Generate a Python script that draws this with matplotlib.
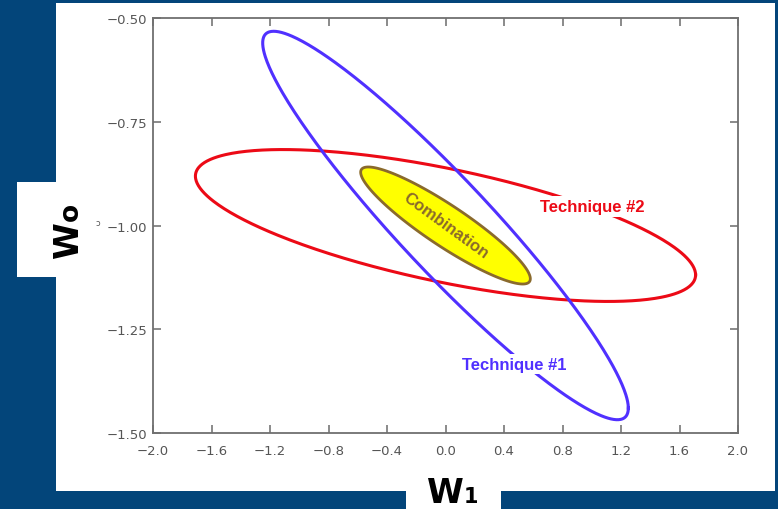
import numpy as np
import matplotlib.pyplot as plt
from matplotlib.patches import Rectangle

# error ellipses: centre, half-extent along each axis, and W1/W0 correlation
names = ['Technique #1', 'Technique #2', 'Combination']
center_w1 = [0.0, 0.0, 0.0]
center_w0 = [-1.0, -1.0, -1.0]
half_w1 = [1.25, 1.71, 0.58]
half_w0 = [0.468, 0.183, 0.141]
corr = [-0.94, -0.65, -0.91]

xticks = [-2.0, -1.6, -1.2, -0.8, -0.4, 0.0, 0.4, 0.8, 1.2, 1.6, 2.0]
yticks = [-1.50, -1.25, -1.00, -0.75, -0.50]

# label positions (W1, W0)
label_pos = [(0.47, -1.334), (1.0, -0.955), (0.0, -1.0)]

blue = '#5030ff'
red = '#ec0a16'
yellow = '#ffff00'
brown = '#8a6a2c'
navy = '#03457a'
grey = '#555555'

W, H = 778, 510


def ellipse(i):
    t = np.linspace(0, 2 * np.pi, 500)
    phi = np.arccos(corr[i])
    x = center_w1[i] + half_w1[i] * np.cos(t)
    y = center_w0[i] + half_w0[i] * np.cos(t + phi)
    return x, y


def box(x0, y0, x1, y1):
    # pixel box -> figure fraction rectangle
    return Rectangle((x0 / W, 1 - y1 / H), (x1 - x0) / W, (y1 - y0) / H,
                     transform=fig.transFigure, facecolor='white',
                     edgecolor='none', zorder=-1)


def fmt(v, n):
    return ('%.*f' % (n, v)).replace('-', '\u2212')


fig = plt.figure(figsize=(7.78, 5.10), dpi=100, facecolor=navy)
fig.patches.append(box(56, 4, 775, 492))
fig.patches.append(box(17, 183, 57, 278))
fig.patches.append(box(406, 491, 501, 510))

ax = fig.add_axes([153 / W, 1 - 434 / H, 585 / W, 415 / H])
ax.set_facecolor('white')

x, y = ellipse(1)
ax.plot(x, y, color=red, lw=2.2, zorder=2)
x, y = ellipse(0)
ax.plot(x, y, color=blue, lw=2.2, zorder=2)
x, y = ellipse(2)
ax.fill(x, y, facecolor=yellow, edgecolor=brown, lw=2.0, zorder=3)

ax.text(label_pos[0][0], label_pos[0][1], names[0], color=blue,
        fontsize=12, fontweight='bold', family='Liberation Sans',
        ha='center', va='center', zorder=5,
        bbox=dict(facecolor='white', edgecolor='none', pad=2))
ax.text(label_pos[1][0], label_pos[1][1], names[1], color=red,
        fontsize=12, fontweight='bold', family='Liberation Sans',
        ha='center', va='center', zorder=5,
        bbox=dict(facecolor='white', edgecolor='none', pad=2))
ax.text(label_pos[2][0], label_pos[2][1], names[2], color=brown,
        fontsize=12, fontweight='bold', family='Liberation Sans',
        ha='center', va='center', rotation=-36, rotation_mode='anchor',
        zorder=5)

ax.set_xlim(-2.0, 2.0)
ax.set_ylim(-1.5, -0.5)
ax.set_xticks(xticks)
ax.set_yticks(yticks)
ax.set_xticklabels([fmt(v, 1) for v in xticks])
ax.set_yticklabels([fmt(v, 2) for v in yticks])
ax.tick_params(direction='in', length=6, width=1.2, color='#777777',
               labelcolor=grey, labelsize=9.5, top=True, right=True)
ax.tick_params(axis='x', pad=8)
ax.tick_params(axis='y', pad=4)
for s in ax.spines.values():
    s.set_color('#707070')
    s.set_linewidth(1.3)

# axis titles sit on the white tabs
fig.text(427 / W, 1 - 503 / H, 'W', fontsize=24, fontweight='bold',
         ha='left', va='baseline')
fig.text(464 / W, 1 - 503 / H, '1', fontsize=15, fontweight='bold',
         ha='left', va='baseline')
fig.text(78 / W, 1 - 258 / H, 'W', fontsize=24, fontweight='bold',
         rotation=90, rotation_mode='anchor', ha='left', va='baseline')
fig.text(78 / W, 1 - 221 / H, 'o', fontsize=19, fontweight='bold',
         rotation=90, rotation_mode='anchor', ha='left', va='baseline')
fig.text(98 / W, 1 - 223 / H, '\u0254', fontsize=6, color=grey,
         ha='center', va='center')

fig.savefig('out.png', dpi=100, facecolor=navy)
